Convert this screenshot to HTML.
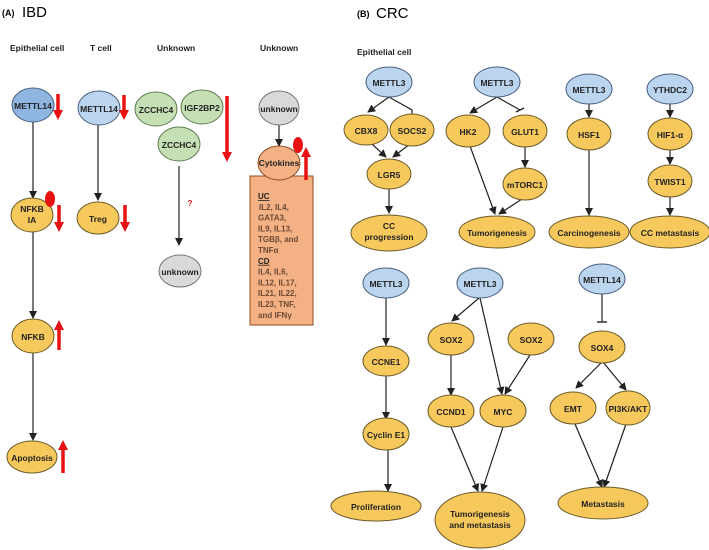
<!DOCTYPE html>
<html><head><meta charset="utf-8"><style>
body{margin:0;background:#fff}
svg{display:block;font-family:"Liberation Sans",Arial,sans-serif}
.y{fill:#f7c95c;stroke:#6b5a2a;stroke-width:1}
.b{fill:#bcd5ee;stroke:#4a5f80;stroke-width:1}
.b2{fill:#8fb6e0;stroke:#4a5f80;stroke-width:1}
.g{fill:#c6e0b5;stroke:#5e7a50;stroke-width:1}
.gr{fill:#d9d9d9;stroke:#777;stroke-width:1}
.o{fill:#f4b183;stroke:#8b4a20;stroke-width:1}
.l{stroke:#222;stroke-width:1.2;fill:none}
.t{font-size:8.5px;font-weight:bold;fill:#222;text-anchor:middle}
.h{font-size:8.5px;font-weight:bold;fill:#222}
.r{fill:#e81010}
</style></head><body>
<svg width="709" height="550" viewBox="0 0 709 550" xmlns="http://www.w3.org/2000/svg">
<defs>
<marker id="a" markerWidth="8" markerHeight="8" refX="7" refY="4" orient="auto" markerUnits="userSpaceOnUse"><path d="M0,0 L8,4 L0,8 z" fill="#222"/></marker>
<marker id="i" markerWidth="2" markerHeight="10" refX="1" refY="5" orient="auto" markerUnits="userSpaceOnUse"><path d="M1,0 L1,10" stroke="#222" stroke-width="1.4"/></marker>
<marker id="ra" markerWidth="12" markerHeight="10" refX="2" refY="5" orient="auto" markerUnits="userSpaceOnUse"><path d="M0,0 L10,5 L0,10 z" fill="#e81010"/></marker>
</defs>
<text x="2" y="16" font-size="9" font-weight="bold">(A)</text><text x="22" y="17" font-size="15">IBD</text>
<text x="357" y="17" font-size="9" font-weight="bold">(B)</text><text x="376" y="18" font-size="15">CRC</text>
<text x="10" y="51" class="h">Epithelial cell</text>
<text x="90" y="51" class="h">T cell</text>
<text x="157" y="51" class="h">Unknown</text>
<text x="260" y="51" class="h">Unknown</text>
<text x="357" y="55" class="h" font-size="7.5">Epithelial cell</text>

<line x1="33" y1="122" x2="33" y2="198" class="l" marker-end="url(#a)"/>
<line x1="33" y1="232" x2="33" y2="318" class="l" marker-end="url(#a)"/>
<line x1="33" y1="353" x2="33" y2="440" class="l" marker-end="url(#a)"/>
<ellipse cx="33" cy="105" rx="21" ry="17" class="b2"/><text x="33" y="109" class="t">METTL14</text>
<ellipse cx="32" cy="215" rx="21" ry="17" class="y"/><text x="32" y="212" class="t">NFKB</text><text x="32" y="223" class="t">IA</text>
<ellipse cx="33" cy="336" rx="21" ry="17" class="y"/><text x="33" y="340" class="t">NFKB</text>
<ellipse cx="32" cy="457" rx="25" ry="16" class="y"/><text x="32" y="461" class="t">Apoptosis</text>
<line x1="58" y1="94" x2="58" y2="112" stroke="#e81010" stroke-width="3.5" marker-end="url(#ra)"/>
<ellipse cx="50" cy="199" rx="5" ry="8" class="r"/>
<line x1="59" y1="205" x2="59" y2="224" stroke="#e81010" stroke-width="3.5" marker-end="url(#ra)"/>
<line x1="59" y1="350" x2="59" y2="328" stroke="#e81010" stroke-width="3.5" marker-end="url(#ra)"/>
<line x1="63" y1="473" x2="63" y2="448" stroke="#e81010" stroke-width="3.5" marker-end="url(#ra)"/>

<line x1="98" y1="124" x2="98" y2="200" class="l" marker-end="url(#a)"/>
<ellipse cx="99" cy="108" rx="21" ry="17" class="b"/><text x="99" y="112" class="t">METTL14</text>
<ellipse cx="98" cy="218" rx="21" ry="16" class="y"/><text x="98" y="222" class="t">Treg</text>
<line x1="124" y1="95" x2="124" y2="112" stroke="#e81010" stroke-width="3.5" marker-end="url(#ra)"/>
<line x1="125" y1="205" x2="125" y2="224" stroke="#e81010" stroke-width="3.5" marker-end="url(#ra)"/>

<ellipse cx="156" cy="109" rx="21" ry="17" class="g"/><text x="156" y="113" class="t">ZCCHC4</text>
<ellipse cx="202" cy="107" rx="21" ry="17" class="g"/><text x="202" y="111" class="t">IGF2BP2</text>
<ellipse cx="179" cy="144" rx="21" ry="17" class="g"/><text x="179" y="148" class="t">ZCCHC4</text>
<line x1="227" y1="96" x2="227" y2="154" stroke="#e81010" stroke-width="3.5" marker-end="url(#ra)"/>
<line x1="179" y1="166" x2="179" y2="245" class="l" marker-end="url(#a)"/>
<text x="190" y="206" font-size="8" font-weight="bold" fill="#e81010" text-anchor="middle">?</text>
<ellipse cx="180" cy="271" rx="21" ry="16" class="gr"/><text x="180" y="275" class="t">unknown</text>

<line x1="279" y1="125" x2="279" y2="146" class="l" marker-end="url(#a)"/>
<ellipse cx="279" cy="108" rx="20" ry="17" class="gr"/><text x="279" y="112" class="t">unknown</text>
<rect x="250" y="176" width="63" height="149" class="o" stroke-width="1.5"/>
<ellipse cx="279" cy="163" rx="21" ry="17" class="o"/><text x="279" y="166" class="t" font-size="8">Cytokines</text>
<ellipse cx="298" cy="145" rx="5" ry="8" class="r"/>
<line x1="306" y1="180" x2="306" y2="155" stroke="#e81010" stroke-width="3.5" marker-end="url(#ra)"/>
<g font-size="8" font-weight="bold" fill="#6b4a36">
<text x="258" y="199" text-decoration="underline" fill="#222">UC</text>
<text x="259" y="209.8">IL2, IL4,</text>
<text x="258" y="220.6">GATA3,</text>
<text x="258" y="231.4">IL9, IL13,</text>
<text x="258" y="242.2">TGBβ, and</text>
<text x="258" y="253">TNFα</text>
<text x="258" y="263.8" text-decoration="underline" fill="#222">CD</text>
<text x="258" y="274.6">IL4, IL6,</text>
<text x="258" y="285.4">IL12, IL17,</text>
<text x="258" y="296.2">IL21, IL22,</text>
<text x="258" y="307">IL23, TNF,</text>
<text x="258" y="317.8">and IFNγ</text>
</g>

<line x1="389" y1="97" x2="368" y2="112" class="l" marker-end="url(#a)"/>
<path d="M389,97 L412,110 L412,115" class="l"/><line x1="408" y1="115" x2="416" y2="115" stroke="#222" stroke-width="1.3"/>
<line x1="372" y1="144" x2="386" y2="157" class="l" marker-end="url(#a)"/>
<line x1="410" y1="144" x2="393" y2="157" class="l" marker-end="url(#a)"/>
<line x1="389" y1="189" x2="389" y2="213" class="l" marker-end="url(#a)"/>
<ellipse cx="389" cy="82" rx="23" ry="15" class="b"/><text x="389" y="86" class="t">METTL3</text>
<ellipse cx="366" cy="130" rx="22" ry="15" class="y"/><text x="366" y="134" class="t">CBX8</text>
<ellipse cx="412" cy="130" rx="22" ry="16" class="y"/><text x="412" y="134" class="t">SOCS2</text>
<ellipse cx="389" cy="174" rx="22" ry="15" class="y"/><text x="389" y="178" class="t">LGR5</text>
<ellipse cx="389" cy="233" rx="38" ry="18" class="y"/><text x="389" y="229" class="t">CC</text><text x="389" y="240" class="t">progression</text>

<line x1="497" y1="97" x2="470" y2="113" class="l" marker-end="url(#a)"/>
<line x1="497" y1="97" x2="520" y2="110" class="l"/>
<line x1="516" y1="112" x2="524" y2="108" stroke="#222" stroke-width="1.3"/>
<line x1="470" y1="146" x2="495" y2="214" class="l" marker-end="url(#a)"/>
<line x1="525" y1="147" x2="525" y2="167" class="l" marker-end="url(#a)"/>
<line x1="522" y1="199" x2="499" y2="214" class="l" marker-end="url(#a)"/>
<ellipse cx="497" cy="82" rx="23" ry="15" class="b"/><text x="497" y="86" class="t">METTL3</text>
<ellipse cx="468" cy="131" rx="22" ry="16" class="y"/><text x="468" y="135" class="t">HK2</text>
<ellipse cx="525" cy="131" rx="22" ry="16" class="y"/><text x="525" y="135" class="t">GLUT1</text>
<ellipse cx="525" cy="184" rx="22" ry="16" class="y"/><text x="525" y="188" class="t">mTORC1</text>
<ellipse cx="497" cy="232" rx="38" ry="16" class="y"/><text x="497" y="236" class="t">Tumorigenesis</text>

<line x1="589" y1="104" x2="589" y2="117" class="l" marker-end="url(#a)"/>
<line x1="589" y1="150" x2="589" y2="215" class="l" marker-end="url(#a)"/>
<ellipse cx="589" cy="89" rx="23" ry="15" class="b"/><text x="589" y="93" class="t">METTL3</text>
<ellipse cx="589" cy="134" rx="22" ry="16" class="y"/><text x="589" y="138" class="t">HSF1</text>
<ellipse cx="589" cy="232" rx="40" ry="16" class="y"/><text x="589" y="236" class="t">Carcinogenesis</text>

<line x1="670" y1="104" x2="670" y2="117" class="l" marker-end="url(#a)"/>
<line x1="670" y1="150" x2="670" y2="164" class="l" marker-end="url(#a)"/>
<line x1="670" y1="197" x2="670" y2="215" class="l" marker-end="url(#a)"/>
<ellipse cx="670" cy="89" rx="23" ry="15" class="b"/><text x="670" y="93" class="t">YTHDC2</text>
<ellipse cx="670" cy="134" rx="22" ry="16" class="y"/><text x="670" y="138" class="t">HIF1-α</text>
<ellipse cx="670" cy="181" rx="22" ry="16" class="y"/><text x="670" y="185" class="t">TWIST1</text>
<ellipse cx="670" cy="232" rx="40" ry="16" class="y"/><text x="670" y="236" class="t">CC metastasis</text>

<line x1="386" y1="298" x2="386" y2="345" class="l" marker-end="url(#a)"/>
<line x1="386" y1="376" x2="386" y2="419" class="l" marker-end="url(#a)"/>
<line x1="388" y1="449" x2="388" y2="491" class="l" marker-end="url(#a)"/>
<ellipse cx="386" cy="283" rx="23" ry="15" class="b"/><text x="386" y="287" class="t">METTL3</text>
<ellipse cx="386" cy="361" rx="23" ry="15" class="y"/><text x="386" y="365" class="t">CCNE1</text>
<ellipse cx="386" cy="434" rx="23" ry="16" class="y"/><text x="386" y="438" class="t">Cyclin E1</text>
<ellipse cx="376" cy="506" rx="45" ry="15" class="y"/><text x="376" y="510" class="t">Proliferation</text>

<line x1="479" y1="298" x2="452" y2="321" class="l" marker-end="url(#a)"/>
<line x1="480" y1="298" x2="502" y2="394" class="l" marker-end="url(#a)"/>
<line x1="451" y1="355" x2="451" y2="395" class="l" marker-end="url(#a)"/>
<line x1="530" y1="355" x2="505" y2="394" class="l" marker-end="url(#a)"/>
<line x1="451" y1="427" x2="478" y2="491" class="l" marker-end="url(#a)"/>
<line x1="503" y1="427" x2="482" y2="491" class="l" marker-end="url(#a)"/>
<ellipse cx="480" cy="283" rx="23" ry="15" class="b"/><text x="480" y="287" class="t">METTL3</text>
<ellipse cx="451" cy="339" rx="23" ry="16" class="y"/><text x="451" y="343" class="t">SOX2</text>
<ellipse cx="531" cy="339" rx="23" ry="16" class="y"/><text x="531" y="343" class="t">SOX2</text>
<ellipse cx="451" cy="411" rx="23" ry="16" class="y"/><text x="451" y="415" class="t">CCND1</text>
<ellipse cx="503" cy="411" rx="23" ry="16" class="y"/><text x="503" y="415" class="t">MYC</text>
<ellipse cx="480" cy="520" rx="45" ry="28" class="y"/><text x="480" y="517" class="t">Tumorigenesis</text><text x="480" y="528" class="t">and metastasis</text>

<line x1="602" y1="294" x2="602" y2="322" class="l" marker-end="url(#i)"/>
<line x1="602" y1="362" x2="576" y2="388" class="l" marker-end="url(#a)"/>
<line x1="603" y1="362" x2="626" y2="390" class="l" marker-end="url(#a)"/>
<line x1="575" y1="424" x2="602" y2="487" class="l" marker-end="url(#a)"/>
<line x1="626" y1="424" x2="604" y2="487" class="l" marker-end="url(#a)"/>
<ellipse cx="602" cy="279" rx="23" ry="15" class="b"/><text x="602" y="283" class="t">METTL14</text>
<ellipse cx="602" cy="347" rx="23" ry="16" class="y"/><text x="602" y="351" class="t">SOX4</text>
<ellipse cx="573" cy="408" rx="23" ry="16" class="y"/><text x="573" y="412" class="t">EMT</text>
<ellipse cx="628" cy="408" rx="22" ry="17" class="y"/><text x="628" y="412" class="t">PI3K/AKT</text>
<ellipse cx="603" cy="503" rx="45" ry="16" class="y"/><text x="603" y="507" class="t">Metastasis</text>
</svg>
</body></html>
